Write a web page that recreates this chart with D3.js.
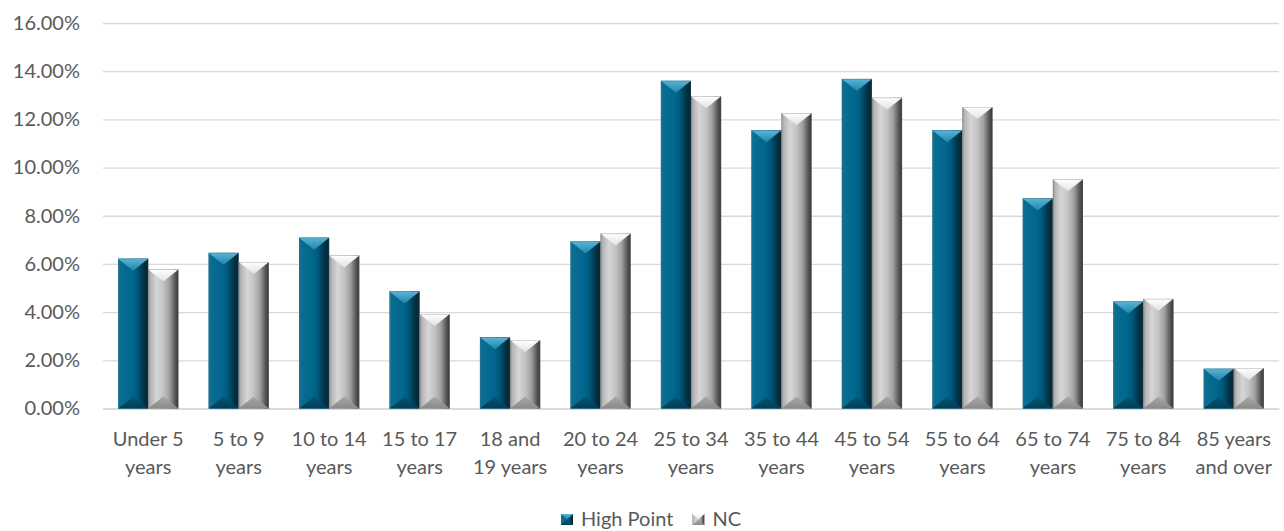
<!DOCTYPE html>
<html>
<head>
<meta charset="utf-8">
<script src="https://cdn.jsdelivr.net/npm/d3@7"></script>
<style>
  html, body { margin: 0; padding: 0; background: #fff; }
  svg { display: block; font-family: Lato, "Open Sans", sans-serif; }
</style>
</head>
<body>
<svg id="chart" width="1284" height="531"></svg>
<script>
// Age groups (two-line labels, "\n" marks the break)
const categories = [
  "Under 5\nyears", "5 to 9\nyears", "10 to 14\nyears", "15 to 17\nyears",
  "18 and\n19 years", "20 to 24\nyears", "25 to 34\nyears", "35 to 44\nyears",
  "45 to 54\nyears", "55 to 64\nyears", "65 to 74\nyears", "75 to 84\nyears",
  "85 years\nand over"
];
const seriesNames = ["High Point", "NC"];
// Share of population, percent
const highPoint = [6.22, 6.46, 7.09, 4.86, 2.96, 6.93, 13.60, 11.55, 13.68, 11.55, 8.72, 4.44, 1.65];
const nc        = [5.77, 6.08, 6.35, 3.92, 2.84, 7.26, 12.96, 12.25, 12.90, 12.51, 9.51, 4.55, 1.68];
const yTicks = [0, 2, 4, 6, 8, 10, 12, 14, 16];

const svg = d3.select("#chart");
const plot = { left: 103, right: 1279, top: 23, bottom: 408.5 };

const x0 = d3.scaleBand().domain(categories).range([plot.left, plot.right])
  .paddingInner(1 / 3).paddingOuter(1 / 6);
const x1 = d3.scaleBand().domain(seriesNames).range([0, x0.bandwidth()]);
const y = d3.scaleLinear().domain([0, 16]).range([plot.bottom, plot.top]);

// ---- gradients for the bevelled bars ----
const defs = svg.append("defs");
const styles = {
  "High Point": {
    body: [[0, "#2a7c9a"], [0.06, "#0b6d92"], [0.45, "#00678e"], [0.62, "#005a7d"], [0.85, "#003246"], [1, "#0d2430"]],
    top: [[0, "#5cb4d4"], [1, "#1f86ad"]],
    bottom: [[0, "#005676"], [1, "#003e56"]],
    edge: "#1d5f78"
  },
  "NC": {
    body: [[0, "#8a8a8a"], [0.07, "#b4b4b4"], [0.28, "#d6d6d6"], [0.5, "#c3c3c3"], [0.7, "#a0a0a0"], [0.88, "#5a5a5a"], [1, "#353535"]],
    top: [[0, "#ffffff"], [1, "#e2e2e2"]],
    bottom: [[0, "#a8a8a8"], [1, "#8a8a8a"]],
    edge: "#7a7a7a"
  }
};
const gradId = (s, part) => (s === "NC" ? "nc" : "hp") + "-" + part;
seriesNames.forEach(s => {
  const st = styles[s];
  const mk = (part, stops, vertical) => {
    const g = defs.append("linearGradient").attr("id", gradId(s, part))
      .attr("x1", 0).attr("y1", 0)
      .attr("x2", vertical ? 0 : 1).attr("y2", vertical ? 1 : 0);
    stops.forEach(([o, c]) => g.append("stop").attr("offset", o).attr("stop-color", c));
  };
  mk("body", st.body, false);
  mk("top", st.top, true);
  mk("bottom", st.bottom, true);
});

// ---- y axis with gridlines ----
const yAxis = d3.axisLeft(y).tickValues(yTicks).tickSize(-(plot.right - plot.left))
  .tickPadding(23).tickFormat(d => d.toFixed(2) + "%");
const yg = svg.append("g").attr("transform", `translate(${plot.left},0)`).call(yAxis);
yg.select(".domain").remove();
yg.selectAll(".tick line").attr("stroke", "#d9d9d9").attr("stroke-width", 1.3);
yg.selectAll(".tick text").attr("fill", "#595959").style("font-size", "20px")
  .style("font-family", "Lato, 'Open Sans', sans-serif");

// ---- x axis labels ----
const xAxis = d3.axisBottom(x0).tickSize(0).tickFormat("");
const xg = svg.append("g").attr("transform", `translate(0,${plot.bottom})`).call(xAxis);
xg.select(".domain").attr("stroke", "#d9d9d9").attr("stroke-width", 1.3);
xg.selectAll(".tick").each(function (d) {
  const t = d3.select(this).select("text").attr("y", null).attr("dy", null)
    .attr("fill", "#595959").style("font-size", "20px")
    .style("font-family", "Lato, 'Open Sans', sans-serif").text(null);
  d.split("\n").forEach((line, i) => {
    t.append("tspan").attr("x", 0).attr("y", 37.5 + i * 28).text(line);
  });
});

// ---- bars ----
const rows = categories.map((c, i) => ({ cat: c, values: [
  { s: "High Point", v: highPoint[i] }, { s: "NC", v: nc[i] }
] }));

const groups = svg.append("g").selectAll("g").data(rows).join("g")
  .attr("transform", d => `translate(${x0(d.cat)},0)`);

const bars = groups.selectAll("g").data(d => d.values).join("g");
bars.each(function (d) {
  const g = d3.select(this);
  const bx = x1(d.s), bw = x1.bandwidth();
  const top = y(d.v), bot = y(0), h = bot - top;
  const depth = Math.min(12, h / 2);
  const cx = bx + bw / 2;
  g.append("rect").attr("x", bx).attr("y", top).attr("width", bw).attr("height", h)
    .attr("fill", `url(#${gradId(d.s, "body")})`);
  g.append("path")
    .attr("d", `M${bx},${top}L${bx + bw},${top}L${cx},${top + depth}Z`)
    .attr("fill", `url(#${gradId(d.s, "top")})`);
  g.append("path")
    .attr("d", `M${bx},${bot}L${bx + bw},${bot}L${cx},${bot - depth}Z`)
    .attr("fill", `url(#${gradId(d.s, "bottom")})`);
  g.append("rect").attr("x", bx + 0.25).attr("y", top + 0.25).attr("width", bw - 0.5).attr("height", h - 0.5)
    .attr("fill", "none").attr("stroke", styles[d.s].edge).attr("stroke-width", 0.5).attr("stroke-opacity", 0.6);
});

// ---- legend ----
const legend = svg.append("g").attr("class", "legend");
let lx = 561;
seriesNames.forEach(s => {
  const item = legend.append("g").attr("transform", `translate(${lx},0)`);
  const w = 12, h = 11, ty = 514;
  item.append("rect").attr("x", 0).attr("y", ty).attr("width", w).attr("height", h)
    .attr("fill", `url(#${gradId(s, "body")})`);
  item.append("path").attr("d", `M0,${ty}L${w},${ty}L${w / 2},${ty + h / 2}Z`)
    .attr("fill", `url(#${gradId(s, "top")})`);
  item.append("path").attr("d", `M0,${ty + h}L${w},${ty + h}L${w / 2},${ty + h / 2}Z`)
    .attr("fill", `url(#${gradId(s, "bottom")})`);
  const txt = item.append("text").attr("x", 20).attr("y", 526)
    .attr("fill", "#595959").style("font-size", "20px").text(s);
  lx += 20 + txt.node().getComputedTextLength() + 19;
});
</script>
</body>
</html>
